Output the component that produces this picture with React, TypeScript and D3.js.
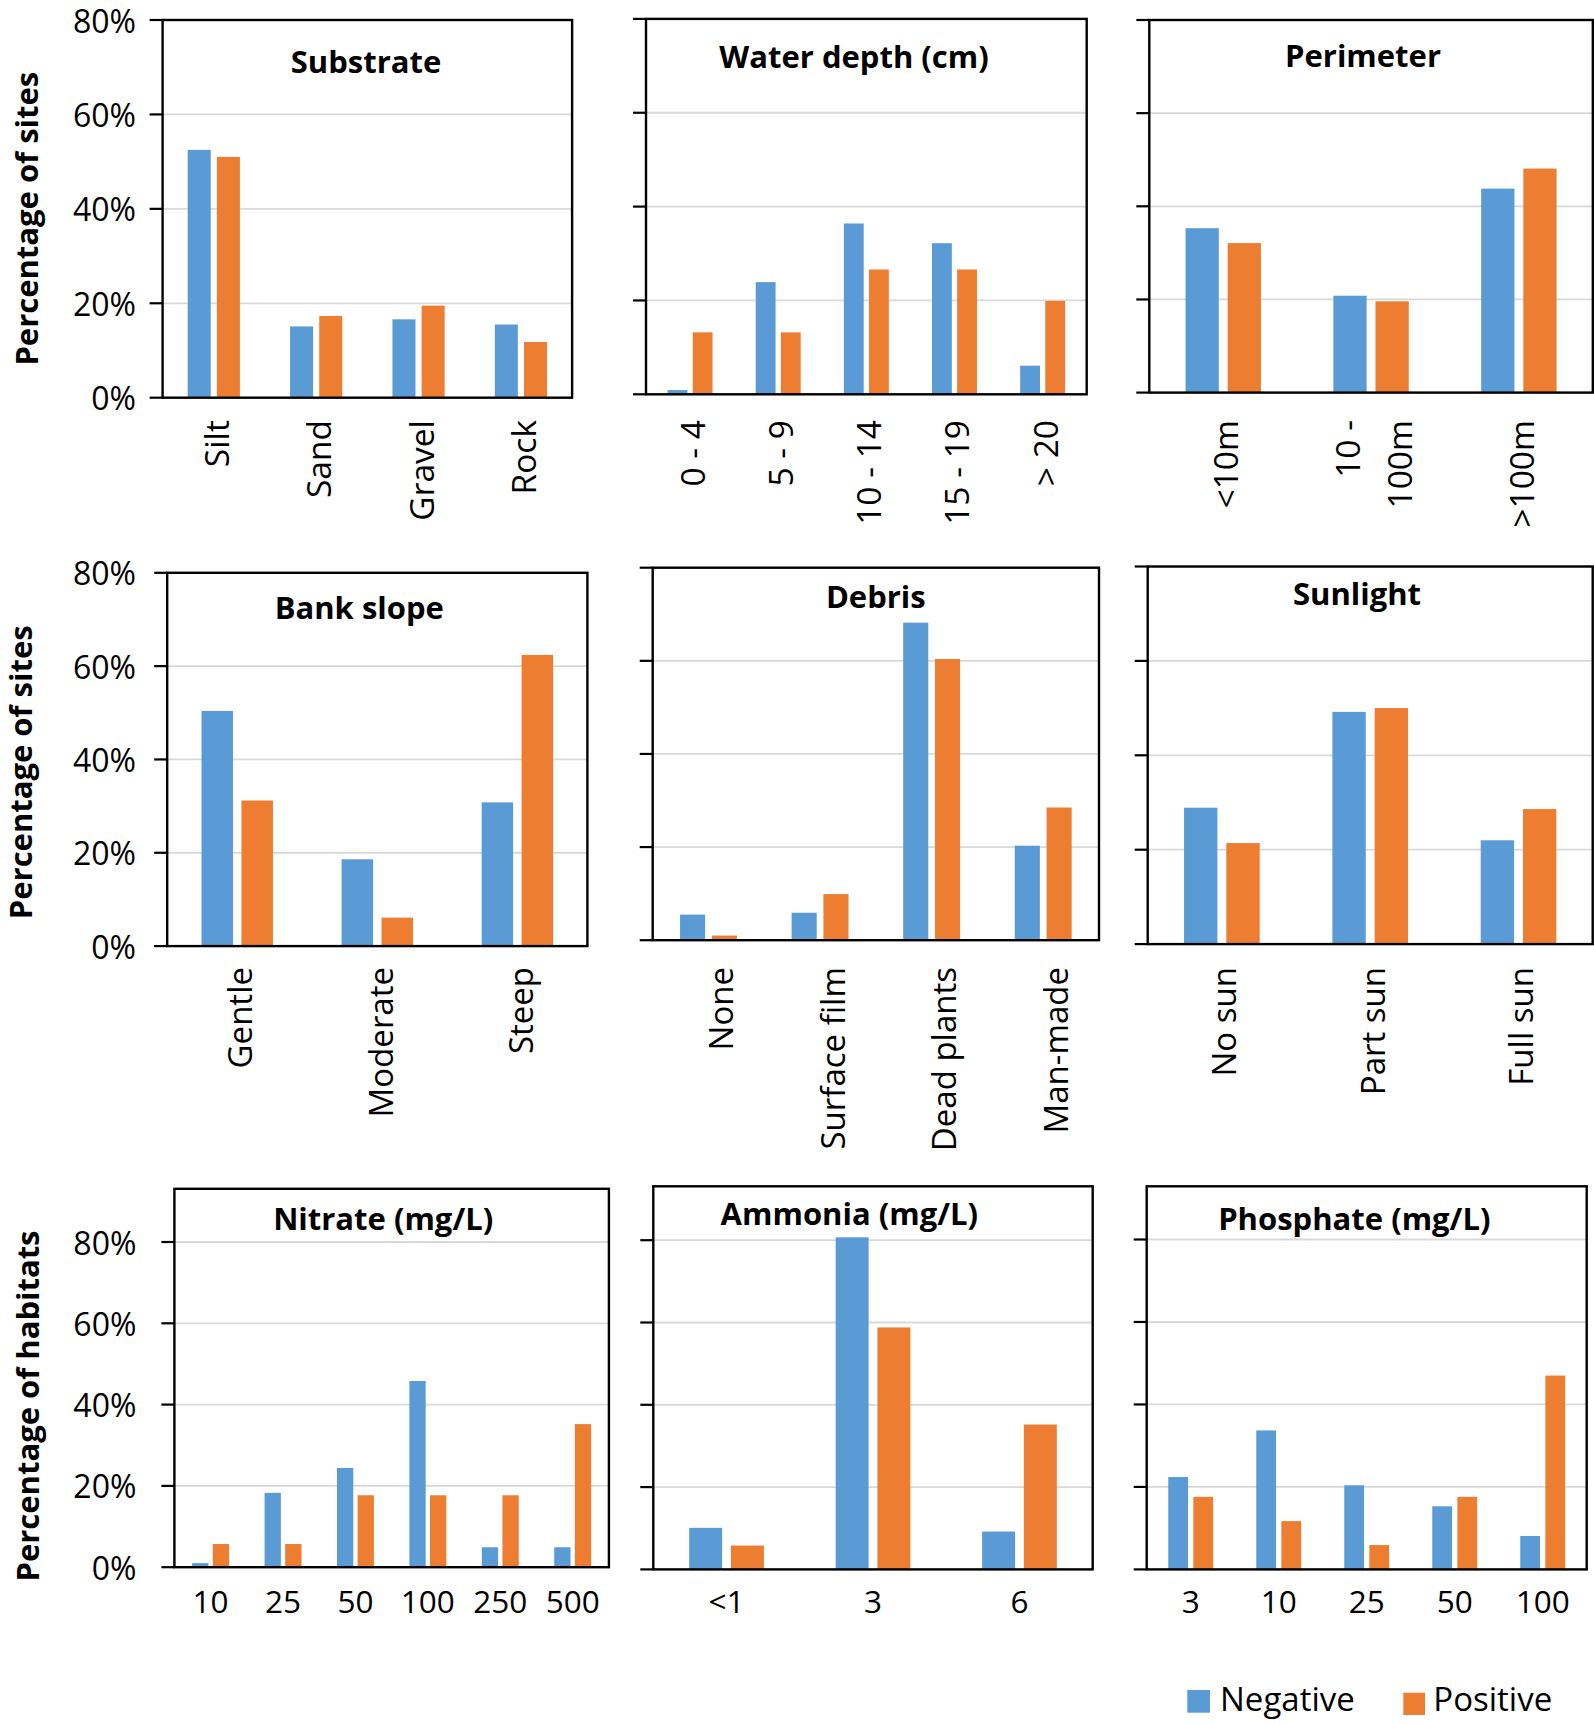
import React from "react";
import * as d3 from "d3";

const NEG_COLOR = "#5B9BD5";
const POS_COLOR = "#ED7D31";
const FONT = "'Open Sans', 'Noto Sans', sans-serif";

// ---- data (percent of sites / habitats) ----
const substrateCats = ["Silt", "Sand", "Gravel", "Rock"];
const substrateNeg = [52.5, 15.1, 16.6, 15.5];
const substratePos = [51.0, 17.3, 19.5, 11.8];

const depthCats = ["0 - 4", "5 - 9", "10 - 14", "15 - 19", "> 20"];
const depthNeg = [0.9, 23.9, 36.4, 32.2, 6.1];
const depthPos = [13.2, 13.2, 26.6, 26.6, 19.9];

const perimeterCats = ["<10m", "10 -\n100m", ">100m"];
const perimeterNeg = [35.3, 20.8, 43.8];
const perimeterPos = [32.1, 19.6, 48.1];

const slopeCats = ["Gentle", "Moderate", "Steep"];
const slopeNeg = [50.4, 18.6, 30.8];
const slopePos = [31.2, 6.1, 62.4];

const debrisCats = ["None", "Surface film", "Dead plants", "Man-made"];
const debrisNeg = [5.5, 5.9, 68.2, 20.3];
const debrisPos = [1.0, 9.9, 60.4, 28.5];

const sunCats = ["No sun", "Part sun", "Full sun"];
const sunNeg = [28.9, 49.2, 22.0];
const sunPos = [21.4, 50.0, 28.6];

const nitrateCats = ["10", "25", "50", "100", "250", "500"];
const nitrateNeg = [1.0, 18.3, 24.4, 45.8, 4.9, 4.9];
const nitratePos = [5.7, 5.7, 17.7, 17.7, 17.7, 35.2];

const ammoniaCats = ["<1", "3", "6"];
const ammoniaNeg = [10.1, 80.7, 9.2];
const ammoniaPos = [5.8, 58.8, 35.2];

const phosphateCats = ["3", "10", "25", "50", "100"];
const phosphateNeg = [22.4, 33.7, 20.4, 15.3, 8.1];
const phosphatePos = [17.6, 11.7, 5.9, 17.6, 47.0];

const yTicks = [0, 20, 40, 60, 80];
const legendItems = ["Negative", "Positive"];

// ---- layout of each panel ----
const panels = [
  { title: "Substrate", cats: substrateCats, neg: substrateNeg, pos: substratePos,
    left: 162.6, right: 572.1, top: 20, zero: 397.7, y80: 20, tx: 366, ty: 73.3,
    tickLabels: true, tickLabelX: 136, rot: true, labTop: 420, labFont: 33.5, labOff: 15.3 },
  { title: "Water depth (cm)", cats: depthCats, neg: depthNeg, pos: depthPos,
    left: 646, right: 1086.7, top: 18.9, zero: 394.3, y80: 18.9, tx: 854, ty: 67.8,
    tickLabels: false, rot: true, labTop: 420, labFont: 33.5, labOff: 15 },
  { title: "Perimeter", cats: perimeterCats, neg: perimeterNeg, pos: perimeterPos,
    left: 1149.3, right: 1592.8, top: 20, zero: 392.6, y80: 20, tx: 1363, ty: 67.1,
    tickLabels: false, rot: true, labTop: 420, labFont: 33.5, labOff: 15, lineGap: 51.7 },
  { title: "Bank slope", cats: slopeCats, neg: slopeNeg, pos: slopePos,
    left: 167.2, right: 587.4, top: 572.8, zero: 946.1, y80: 572.8, tx: 359.3, ty: 619.1,
    tickLabels: true, tickLabelX: 136, rot: true, labTop: 967, labFont: 33, labOff: 15.2 },
  { title: "Debris", cats: debrisCats, neg: debrisNeg, pos: debrisPos,
    left: 652.7, right: 1099, top: 567.7, zero: 940.2, y80: 567.7, tx: 875.8, ty: 608,
    tickLabels: false, rot: true, labTop: 967, labFont: 33, labOff: 24.5 },
  { title: "Sunlight", cats: sunCats, neg: sunNeg, pos: sunPos,
    left: 1147.7, right: 1592.7, top: 566.5, zero: 944.1, y80: 566.5, tx: 1357, ty: 605.2,
    tickLabels: false, rot: true, labTop: 967, labFont: 33, labOff: 14.5 },
  { title: "Nitrate (mg/L)", cats: nitrateCats, neg: nitrateNeg, pos: nitratePos,
    left: 174.4, right: 608.9, top: 1188.8, zero: 1567.2, y80: 1242, tx: 383.2, ty: 1230.1,
    tickLabels: true, tickLabelX: 136.4, rot: false, labBase: 1613.2, labFont: 31.5 },
  { title: "Ammonia (mg/L)", cats: ammoniaCats, neg: ammoniaNeg, pos: ammoniaPos,
    left: 653.3, right: 1092.7, top: 1186.3, zero: 1569.4, y80: 1240.2, tx: 849.3, ty: 1224.7,
    tickLabels: false, rot: false, labBase: 1613.2, labFont: 31.5 },
  { title: "Phosphate (mg/L)", cats: phosphateCats, neg: phosphateNeg, pos: phosphatePos,
    left: 1146.7, right: 1586.7, top: 1186.3, zero: 1569.4, y80: 1239.5, tx: 1354.3, ty: 1230.1,
    tickLabels: false, rot: false, labBase: 1613.2, labFont: 31.5 },
];

const yTitles = [
  { text: "Percentage of sites", x: 38.3, y: 218.7 },
  { text: "Percentage of sites", x: 32, y: 772.3 },
  { text: "Percentage of habitats", x: 38.8, y: 1406 },
];

function Panel({ p }: { p: any }) {
  const x = d3.scaleBand<string>().domain(p.cats).range([p.left, p.right]);
  const y = d3.scaleLinear().domain([0, 80]).range([p.zero, p.y80]);
  const bw = x.bandwidth();
  const barW = bw * 0.225;
  const gap = bw * 0.06;
  const center = (c: string) => (x(c) as number) + bw / 2;

  return (
    <g>
      {yTicks.map((t) => (
        <line key={"g" + t} x1={p.left} x2={p.right} y1={y(t)} y2={y(t)} stroke="#d9d9d9" strokeWidth={1.8} />
      ))}
      {p.cats.map((c: string, i: number) => (
        <g key={c}>
          <rect x={center(c) - gap / 2 - barW} y={y(p.neg[i])} width={barW} height={y(0) - y(p.neg[i])} fill={NEG_COLOR} />
          <rect x={center(c) + gap / 2} y={y(p.pos[i])} width={barW} height={y(0) - y(p.pos[i])} fill={POS_COLOR} />
        </g>
      ))}
      <rect x={p.left} y={p.top} width={p.right - p.left} height={p.zero - p.top} fill="none" stroke="#000" strokeWidth={2.4} />
      {yTicks.map((t) => (
        <line key={"t" + t} x1={p.left - 13} x2={p.left} y1={y(t)} y2={y(t)} stroke="#000" strokeWidth={2.2} />
      ))}
      {p.tickLabels &&
        yTicks.map((t) => (
          <text key={"l" + t} x={p.tickLabelX} y={y(t)} dominantBaseline="central" textAnchor="end" fontSize={32}>
            {t + "%"}
          </text>
        ))}
      <text x={p.tx} y={p.ty} textAnchor="middle" fontWeight="bold" fontSize={31}>
        {p.title}
      </text>
      {p.cats.map((c: string) => {
        if (!p.rot) {
          return (
            <text key={"x" + c} x={center(c)} y={p.labBase} textAnchor="middle" fontSize={p.labFont}>
              {c}
            </text>
          );
        }
        const lines = c.split("\n");
        const gapL = p.lineGap || 0;
        return lines.map((ln, k) => {
          const off = p.labOff + (k - (lines.length - 1) / 2) * gapL;
          return (
            <text
              key={"x" + c + k}
              transform={`translate(${center(c) + off},${p.labTop}) rotate(-90)`}
              textAnchor="end"
              fontSize={p.labFont}
            >
              {ln}
            </text>
          );
        });
      })}
    </g>
  );
}

export default function App() {
  return (
    <svg
      width={1594}
      height={1724}
      style={{ position: "absolute", left: 0, top: 0, background: "#fff" }}
      fontFamily={FONT}
      fill="#000"
    >
      <rect x={0} y={0} width={1594} height={1724} fill="#fff" />
      {panels.map((p) => (
        <Panel key={p.title} p={p} />
      ))}
      {yTitles.map((t, i) => (
        <text
          key={i}
          transform={`translate(${t.x},${t.y}) rotate(-90)`}
          textAnchor="middle"
          fontWeight="bold"
          fontSize={31}
        >
          {t.text}
        </text>
      ))}
      <g>
        <rect x={1187.3} y={1690} width={22.7} height={22.7} fill={NEG_COLOR} />
        <text x={1220} y={1710.7} fontSize={33}>{legendItems[0]}</text>
        <rect x={1403.3} y={1692.7} width={21.7} height={22.3} fill={POS_COLOR} />
        <text x={1433.3} y={1710.7} fontSize={33}>{legendItems[1]}</text>
      </g>
    </svg>
  );
}
